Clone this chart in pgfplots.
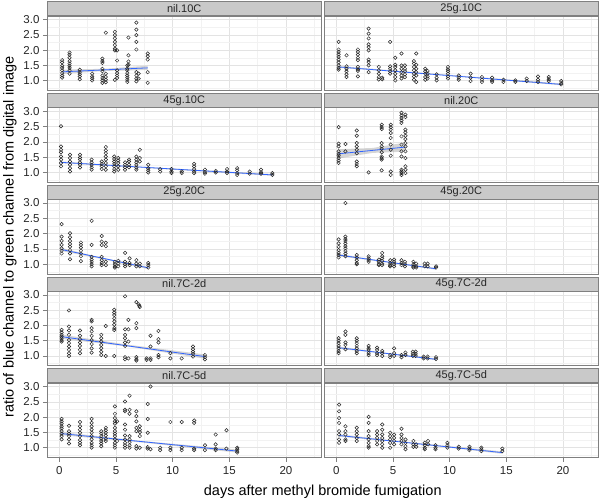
\documentclass[border=0pt]{standalone}
\usepackage{pgfplots}
\pgfplotsset{compat=1.18}
\usepackage{fontspec}
\setmainfont{Liberation Sans}
\definecolor{lmblue}{HTML}{3366FF}
\pgfplotsset{
  every axis title/.style={at={(0.5,1)}, anchor=south, draw=black!50, fill=black!21, line width=0.6pt, minimum width=274.5pt, minimum height=14pt, inner sep=0pt, font=\fontsize{11}{11}\selectfont, text=black!85},
  panel/.style={scale only axis, width=274.5pt, height=74.5pt, anchor=north west,
    xmin=-1.09, xmax=23.14, ymin=0.68, ymax=3.115,
    xtick={0,5,10,15,20}, ytick={1,1.5,2,2.5,3},
    minor xtick={2.5,7.5,12.5,17.5,22.5}, minor ytick={0.75,1.25,1.75,2.25,2.75},
    grid=both, major grid style={black!11, line width=0.5pt}, minor grid style={black!5, line width=0.4pt},
    tick align=outside, tick pos=left, major tick length=4pt, minor tick length=0pt,
    tick style={black!50, line width=0.5pt},
    axis line style={black!50, line width=0.6pt},
    tick label style={font=\fontsize{11.5}{11.5}\selectfont, text=black!85},
    xticklabel style={yshift=-1.5pt},
    xticklabels={}, yticklabels={}},
  pts/.style={only marks, mark=o, mark size=1.75pt, mark options={draw=black!85, line width=0.5pt}},
  fit/.style={lmblue, line width=0.8pt, no marks},
  band/.style={draw=none, fill=black!40, fill opacity=0.4, no marks},
  noxt/.style={xtick style={draw=none}},
  noyt/.style={ytick style={draw=none}},
  xt/.style={xticklabels={0,5,10,15,20}},
  yt/.style={yticklabels={1.0,1.5,2.0,2.5,3.0}},
}
\begin{document}
\begin{tikzpicture}
\path[use as bounding box] (0pt,0pt) rectangle (600pt,-501pt);
% ---- row 1 ----
\begin{axis}[panel, yt, noxt, title={nil.10C}, at={(47pt,-16pt)}]
\addplot[pts] coordinates {(0.25,1.67)(0.25,1.60)(0.25,1.49)(0.25,1.42)(0.25,1.34)(0.25,1.25)(0.25,1.17)(0.25,1.10)
(0.9,1.92)(0.9,1.85)(0.9,1.75)(0.9,1.64)(0.9,1.56)(0.9,1.49)(0.9,1.42)(0.9,1.34)(0.9,1.23)
(1.8,1.36)(1.8,1.28)(1.8,1.21)(1.8,1.14)(1.8,1.05)
(2.9,1.23)(2.9,1.14)(2.9,1.08)(2.9,1.01)
(3.8,1.72)(3.8,1.64)(3.8,1.58)(3.8,1.39)(3.8,1.31)(3.8,1.17)(3.8,1.09)(3.8,1.01)(3.8,0.93)
(4.1,2.57)(4.1,1.23)(4.1,1.12)(4.1,1.03)(4.1,0.95)
(4.9,2.60)(4.9,2.49)(4.9,2.38)(4.9,2.27)(4.9,2.16)(4.9,2.05)(4.9,1.99)(4.9,1.03)
(5.1,1.99)(5.1,1.66)(5.1,1.34)(5.1,1.25)(5.1,1.17)(5.1,1.09)
(6.0,1.50)(6.0,1.39)(6.0,1.34)(6.0,1.25)(6.0,1.17)(6.0,1.10)(6.0,1.03)(6.0,0.96)
(6.1,2.41)(6.1,1.83)(6.1,1.63)(6.1,1.52)
(6.8,2.90)(6.8,2.67)(6.8,2.49)(6.8,2.27)(6.8,2.02)(6.8,1.28)(6.8,1.17)(6.8,1.07)(6.8,0.98)
(7.0,1.23)(7.0,1.07)
(7.8,1.89)(7.8,1.80)(7.8,1.69)(7.8,1.28)(7.8,0.93)};
\addplot[band] coordinates {(0.25,1.36)(4.0,1.39)(7.8,1.49)(7.8,1.35)(4.0,1.32)(0.25,1.22)} -- cycle;
\addplot[fit] coordinates {(0.25,1.29)(7.8,1.42)};
\end{axis}
\begin{axis}[panel, noxt, noyt, title={25g.10C}, at={(324pt,-16pt)}]
\addplot[pts] coordinates {(0.2,2.27)(0.2,2.02)(0.2,1.94)(0.2,1.86)(0.2,1.78)(0.2,1.69)(0.2,1.60)(0.2,1.50)(0.2,1.42)(0.2,1.36)
(0.9,1.83)(0.9,1.47)(0.9,1.39)(0.9,1.31)(0.9,1.21)(0.9,1.12)
(1.9,2.02)(1.9,1.94)(1.9,1.85)(1.9,1.75)(1.9,1.67)(1.9,1.45)(1.9,1.37)(1.9,1.32)(1.9,1.14)
(2.85,2.70)(2.85,2.54)(2.85,2.38)(2.85,2.19)(2.85,2.10)(2.85,1.99)(2.85,1.69)(2.85,1.61)(2.85,1.50)(2.85,1.28)
(3.75,1.45)(3.75,1.34)(3.75,1.23)(3.75,1.12)(3.75,1.04)
(4.05,1.10)(4.05,1.05)
(4.75,2.27)(4.75,1.47)(4.75,1.39)(4.75,1.31)(4.75,1.23)
(5.2,1.75)(5.2,1.52)(5.2,1.45)(5.2,1.34)(5.2,1.23)(5.2,1.12)(5.2,1.01)
(5.75,1.89)(5.75,1.50)(5.75,1.39)(5.75,1.28)(5.75,1.17)(5.75,1.07)
(6.05,1.50)(6.05,1.39)(6.05,1.31)(6.05,1.21)(6.05,1.12)
(6.85,1.64)(6.85,1.56)(6.85,1.45)(6.85,1.34)(6.85,1.23)(6.85,1.14)(6.85,1.03)
(7.05,1.89)(7.05,1.52)(7.05,1.39)(7.05,1.28)(7.05,1.17)(7.05,0.96)
(7.85,1.39)(7.85,1.31)(7.85,1.23)(7.85,1.12)(7.85,1.03)
(8.05,1.32)(8.05,1.23)(8.05,1.14)(8.05,1.07)
(8.85,1.21)(8.85,1.10)(8.85,1.01)
(9.85,1.45)(9.85,1.37)(9.85,1.31)(9.85,1.23)(9.85,1.14)(9.85,1.07)
(10.8,1.17)(10.8,1.10)(10.8,1.03)
(11.85,1.23)(11.85,1.10)(11.85,0.99)
(12.85,1.12)(12.85,1.03)(12.85,0.96)
(13.75,1.10)(13.75,1.01)(13.75,0.96)
(14.75,1.03)(14.75,0.96)
(15.8,1.01)(15.8,0.96)
(16.8,1.07)(16.8,0.99)
(17.8,1.14)(17.8,1.03)(17.8,0.96)
(18.75,1.12)(18.75,1.05)(18.75,0.99)
(19.85,0.99)(19.85,0.92)(19.85,0.88)};
\addplot[band] coordinates {(0.2,1.48)(8,1.25)(19.85,0.91)(19.85,0.85)(8,1.22)(0.2,1.42)} -- cycle;
\addplot[fit] coordinates {(0.2,1.45)(19.85,0.88)};
\end{axis}
% ---- row 2 ----
\begin{axis}[panel, yt, noxt, title={45g.10C}, at={(47pt,-107.75pt)}]
\addplot[pts] coordinates {(0.15,2.51)(0.15,1.85)(0.15,1.74)(0.15,1.66)(0.15,1.52)(0.15,1.42)(0.15,1.31)(0.15,1.20)
(0.94,1.58)(0.94,1.47)(0.94,1.36)(0.94,1.25)(0.94,1.14)(0.94,1.03)
(1.82,1.58)(1.82,1.49)(1.82,1.42)(1.82,1.33)(1.82,1.25)(1.82,1.16)
(2.85,1.42)(2.85,1.33)(2.85,1.25)(2.85,1.17)(2.85,1.09)
(3.74,1.36)(3.74,1.28)(3.74,1.20)(3.74,1.11)
(4.1,1.83)(4.1,1.72)(4.1,1.63)(4.1,1.52)(4.1,1.42)(4.1,1.31)(4.1,1.20)(4.1,1.09)
(4.85,1.52)(4.85,1.44)(4.85,1.36)(4.85,1.28)(4.85,1.20)(4.85,1.11)(4.85,1.03)
(5.2,1.47)(5.2,1.39)(5.2,1.31)(5.2,1.20)(5.2,1.09)
(5.8,1.33)(5.8,1.25)(5.8,1.17)(5.8,1.09)
(6.15,1.42)(6.15,1.36)(6.15,1.25)(6.15,1.17)
(6.8,1.52)(6.8,1.42)(6.8,1.33)(6.8,1.25)(6.8,1.16)(6.8,1.09)
(7.1,1.74)(7.1,1.47)(7.1,1.36)
(7.85,1.25)(7.85,1.14)(7.85,1.07)(7.85,1.00)
(8.9,1.11)(8.9,1.03)
(9.9,1.11)(9.9,1.03)(9.9,0.98)
(10.8,1.03)(10.8,0.98)
(11.9,1.28)(11.9,1.20)(11.9,1.11)(11.9,1.03)(11.9,0.98)
(12.85,1.09)(12.85,1.01)(12.85,0.96)
(13.8,1.05)(13.8,1.00)
(14.8,1.11)(14.8,1.03)(14.8,0.98)
(15.7,1.14)(15.7,1.07)(15.7,0.98)(15.7,0.92)
(16.8,1.03)(16.8,0.96)
(17.8,1.09)(17.8,1.01)(17.8,0.96)
(18.8,0.98)(18.8,0.92)};
\addplot[band] coordinates {(0.15,1.36)(7,1.19)(18.8,0.95)(18.8,0.89)(7,1.16)(0.15,1.30)} -- cycle;
\addplot[fit] coordinates {(0.15,1.33)(18.8,0.92)};
\end{axis}
\begin{axis}[panel, noxt, noyt, title={nil.20C}, at={(324pt,-107.75pt)}]
\addplot[pts] coordinates {(0.2,2.48)(0.2,1.94)(0.2,1.85)(0.2,1.69)(0.2,1.61)(0.2,1.55)(0.2,1.47)(0.2,1.39)(0.2,1.31)
(0.8,1.93)(0.8,1.69)
(1.8,2.37)(1.8,2.20)(1.8,1.96)(1.8,1.85)(1.8,1.74)(1.8,1.63)(1.8,1.36)(1.8,1.28)(1.8,1.20)
(2.85,1.00)
(4.0,2.56)(4.0,2.48)(4.0,2.42)(4.0,1.96)(4.0,1.85)(4.0,1.77)(4.0,1.66)(4.0,1.52)(4.0,1.47)(4.0,1.42)(4.0,1.07)
(4.8,2.56)(4.8,2.48)(4.8,2.40)(4.8,2.29)(4.8,2.13)(4.8,1.91)(4.8,1.74)(4.8,1.55)(4.8,1.03)(4.8,0.92)
(5.75,2.95)(5.75,2.86)(5.75,2.78)(5.75,2.70)(5.75,2.62)(5.75,2.18)(5.75,1.91)(5.75,1.69)(5.75,1.52)(5.75,1.09)(5.75,1.03)(5.75,0.98)(5.75,0.92)
(6.1,2.89)(6.1,2.81)(6.1,2.40)(6.1,2.31)(6.1,2.20)(6.1,2.09)(6.1,1.96)(6.1,1.85)(6.1,1.69)(6.1,1.47)(6.1,1.20)(6.1,1.09)(6.1,0.98)};
\addplot[band] coordinates {(0.2,1.76)(3.2,1.80)(6.1,1.98)(6.1,1.68)(3.2,1.64)(0.2,1.46)} -- cycle;
\addplot[fit] coordinates {(0.2,1.61)(6.1,1.83)};
\end{axis}
% ---- row 3 ----
\begin{axis}[panel, yt, noxt, title={25g.20C}, at={(47pt,-199.5pt)}]
\addplot[pts] coordinates {(0.2,2.31)(0.2,1.90)(0.2,1.76)(0.2,1.63)(0.2,1.52)(0.2,1.44)(0.2,1.35)
(0.94,2.01)(0.94,1.88)(0.94,1.76)(0.94,1.66)(0.94,1.57)(0.94,1.46)(0.94,1.35)(0.94,1.16)
(1.9,1.71)(1.9,1.63)(1.9,1.54)(1.9,1.44)(1.9,1.35)(1.9,1.26)(1.9,1.10)
(2.85,2.42)(2.85,1.63)(2.85,1.24)(2.85,1.15)(2.85,1.08)(2.85,1.00)(2.85,0.93)
(3.74,1.92)(3.74,1.74)(3.74,1.63)(3.74,1.24)(3.74,1.13)(3.74,1.04)(3.74,0.97)
(4.1,1.70)(4.1,1.59)(4.1,1.08)(4.1,0.97)
(4.9,1.08)(4.9,1.00)(4.9,0.93)(4.9,0.89)
(5.2,1.11)(5.2,1.02)(5.2,0.93)
(5.8,1.37)(5.8,1.08)(5.8,1.00)(5.8,0.93)
(6.2,1.19)(6.2,1.04)(6.2,0.97)
(6.8,1.13)(6.8,1.02)(6.8,0.93)
(7.1,1.02)(7.1,0.93)
(7.85,1.04)(7.85,0.97)(7.85,0.89)};
\addplot[band] coordinates {(0.2,1.53)(3.5,1.23)(7.85,0.92)(7.85,0.84)(3.5,1.19)(0.2,1.43)} -- cycle;
\addplot[fit] coordinates {(0.2,1.48)(7.85,0.88)};
\end{axis}
\begin{axis}[panel, noxt, noyt, title={45g.20C}, at={(324pt,-199.5pt)}]
\addplot[pts] coordinates {(0.2,1.81)(0.2,1.68)(0.2,1.57)(0.2,1.46)(0.2,1.37)(0.2,1.30)(0.2,1.22)
(0.8,3.00)(0.8,1.90)(0.8,1.82)(0.8,1.76)(0.8,1.68)(0.8,1.59)(0.8,1.52)(0.8,1.43)(0.8,1.35)(0.8,1.26)
(1.8,1.30)(1.8,1.22)(1.8,1.13)(1.8,1.04)(1.8,1.00)
(2.85,1.26)(2.85,1.19)(2.85,1.13)(2.85,1.08)
(3.75,1.15)(3.75,1.08)(3.75,1.00)(3.75,0.97)
(4.05,1.37)(4.05,1.26)(4.05,1.19)(4.05,1.11)(4.05,1.02)(4.05,0.97)
(4.75,1.13)(4.75,1.04)(4.75,0.97)(4.75,0.93)
(5.1,1.15)(5.1,1.08)(5.1,1.00)(5.1,0.93)
(5.75,1.13)(5.75,1.04)(5.75,0.97)
(6.05,1.08)(6.05,1.00)(6.05,0.93)
(6.8,1.08)(6.8,1.00)(6.8,0.93)(6.8,0.89)
(7.05,1.02)(7.05,0.93)(7.05,0.89)
(7.8,1.02)(7.8,0.93)
(8.05,1.02)(8.05,0.93)
(8.8,0.93)(8.8,0.89)};
\addplot[band] coordinates {(0.2,1.34)(4,1.11)(8.8,0.88)(8.8,0.82)(4,1.08)(0.2,1.26)} -- cycle;
\addplot[fit] coordinates {(0.2,1.30)(8.8,0.85)};
\end{axis}
% ---- row 4 ----
\begin{axis}[panel, yt, noxt, title={nil.7C-2d}, at={(47pt,-291.25pt)}]
\addplot[pts] coordinates {(0.2,1.85)(0.2,1.77)(0.2,1.69)(0.2,1.63)(0.2,1.58)(0.2,1.52)(0.2,1.47)
(0.85,2.49)(0.85,1.96)(0.85,1.83)(0.85,1.69)(0.85,1.52)(0.85,1.42)(0.85,1.31)(0.85,1.20)(0.85,1.09)(0.85,1.00)
(1.82,1.83)(1.82,1.66)(1.82,1.55)(1.82,1.44)(1.82,1.33)(1.82,1.20)(1.82,1.09)
(2.85,2.18)(2.85,2.13)(2.85,1.91)(2.85,1.80)(2.85,1.66)(2.85,1.52)(2.85,1.39)(2.85,1.25)(2.85,1.11)
(3.7,1.69)(3.7,1.58)(3.7,1.47)(3.7,1.36)(3.7,1.25)(3.7,1.14)(3.7,1.03)
(4.1,1.98)(4.1,1.00)
(4.85,2.51)(4.85,2.42)(4.85,2.34)(4.85,2.23)(4.85,2.13)(4.85,2.02)(4.85,1.91)(4.85,1.85)(4.85,1.00)
(5.8,2.95)(5.8,1.87)(5.8,1.69)(5.8,1.58)(5.8,1.44)(5.8,1.33)(5.8,0.96)(5.8,0.89)
(6.1,2.18)(6.1,1.87)(6.1,1.47)(6.1,0.92)
(6.8,2.76)(6.8,2.07)(6.8,1.91)(6.8,0.96)(6.8,0.89)(6.8,0.85)
(7.0,2.69)(7.05,2.64)(7.1,2.60)
(7.7,0.92)(7.7,0.87)
(8.05,1.66)(8.05,1.31)(8.05,0.92)(8.05,0.87)
(8.75,1.82)(8.75,1.55)(8.75,1.44)(8.75,1.03)(8.75,0.96)
(9.8,1.09)(9.8,0.92)
(10.8,0.92)
(11.8,1.31)(11.8,1.22)(11.8,1.14)(11.8,1.07)(11.8,0.98)
(12.85,1.03)(12.85,0.96)(12.85,0.89)};
\addplot[band] coordinates {(0.2,1.70)(6,1.37)(12.85,1.05)(12.85,0.91)(6,1.31)(0.2,1.56)} -- cycle;
\addplot[fit] coordinates {(0.2,1.63)(12.85,0.98)};
\end{axis}
\begin{axis}[panel, noxt, noyt, title={45g.7C-2d}, at={(324pt,-291.25pt)}]
\addplot[pts] coordinates {(0.2,1.58)(0.2,1.50)(0.2,1.42)(0.2,1.33)(0.2,1.25)(0.2,1.16)(0.2,1.09)
(0.8,1.80)(0.8,1.69)(0.8,1.44)(0.8,1.36)(0.8,1.22)
(1.8,1.58)(1.8,1.50)(1.8,1.42)(1.8,1.33)(1.8,1.25)(1.8,1.16)(1.8,1.09)
(2.85,1.33)(2.85,1.25)(2.85,1.20)(2.85,1.09)(2.85,1.03)
(3.6,1.27)(3.6,1.20)(3.6,1.09)(3.6,1.03)
(4.05,1.16)(4.05,1.09)(4.05,1.00)
(4.75,1.03)(4.75,0.96)
(5.1,1.25)(5.1,1.09)(5.1,1.00)
(5.75,1.03)(5.75,0.96)
(6.1,1.11)(6.1,1.03)
(6.75,1.14)(6.75,1.07)(6.75,1.00)
(7.0,1.14)(7.0,1.07)(7.0,1.00)
(7.7,0.98)(7.7,0.92)
(8.05,0.98)(8.05,0.92)
(8.8,0.96)(8.8,0.90)};
\addplot[band] coordinates {(0.2,1.31)(4,1.12)(8.8,0.92)(8.8,0.86)(4,1.09)(0.2,1.23)} -- cycle;
\addplot[fit] coordinates {(0.2,1.27)(8.8,0.89)};
\end{axis}
% ---- row 5 ----
\begin{axis}[panel, yt, xt, title={nil.7C-5d}, at={(47pt,-383pt)}]
\addplot[pts] coordinates {(0.2,1.94)(0.2,1.86)(0.2,1.79)(0.2,1.70)(0.2,1.63)(0.2,1.54)(0.2,1.46)(0.2,1.38)(0.2,1.27)
(0.85,1.72)(0.85,1.54)(0.85,1.46)(0.85,1.38)(0.85,1.27)(0.85,1.14)
(1.82,1.84)(1.82,1.70)(1.82,1.59)(1.82,1.49)(1.82,1.38)(1.82,1.25)(1.82,1.16)(1.82,1.08)
(2.85,1.94)(2.85,1.81)(2.85,1.70)(2.85,1.59)(2.85,1.49)(2.85,1.38)(2.85,1.27)(2.85,1.16)(2.85,1.08)(2.85,1.00)
(3.7,1.54)(3.7,1.46)(3.7,1.38)(3.7,1.29)(3.7,1.22)(3.7,1.14)(3.7,1.05)
(4.1,1.65)(4.1,1.57)(4.1,1.49)(4.1,1.40)(4.1,1.29)(4.1,1.22)
(4.9,2.35)(4.9,2.11)(4.9,1.97)(4.9,1.86)(4.9,1.79)(4.9,1.65)(4.9,1.54)(4.9,1.46)(4.9,1.38)(4.9,1.27)(4.9,1.16)(4.9,1.08)(4.9,1.00)
(5.1,1.86)(5.1,1.22)
(5.8,2.51)(5.8,2.24)(5.8,2.19)(5.8,1.76)(5.8,1.59)(5.8,1.40)(5.8,1.27)(5.8,1.16)(5.8,1.08)(5.8,1.00)
(6.2,2.70)(6.2,2.24)(6.2,2.11)(6.2,1.38)(6.2,1.27)(6.2,1.18)(6.2,1.08)(6.2,1.00)
(6.8,2.19)(6.8,2.03)(6.8,1.86)(6.8,1.65)(6.8,1.54)(6.8,1.05)(6.8,0.97)
(7.1,1.70)(7.1,1.59)(7.1,1.51)(7.1,1.38)(7.1,1.00)
(7.8,2.43)(7.8,1.94)(7.8,1.49)(7.8,1.02)(7.8,0.97)
(8.05,3.00)(8.05,0.95)
(8.9,1.00)(8.9,0.92)
(9.8,1.84)(9.8,1.00)(9.8,0.92)
(10.8,1.84)(10.8,1.00)(10.8,0.92)
(11.9,1.89)(11.9,1.81)(11.9,0.97)(11.9,0.92)
(12.85,1.08)(12.85,0.92)
(13.8,1.43)(13.8,1.11)(13.8,0.97)(13.8,0.92)
(14.75,1.57)(14.75,0.97)
(15.7,1.00)(15.7,0.95)(15.7,0.89)(15.7,0.84)};
\addplot[band] coordinates {(0.2,1.51)(7,1.23)(15.7,0.94)(15.7,0.84)(7,1.18)(0.2,1.41)} -- cycle;
\addplot[fit] coordinates {(0.2,1.46)(15.7,0.89)};
\end{axis}
\begin{axis}[panel, noyt, xt, title={45g.7C-5d}, at={(324pt,-383pt)}]
\addplot[pts] coordinates {(0.24,2.41)(0.24,2.19)(0.24,1.97)(0.24,1.81)(0.24,1.54)(0.24,1.43)(0.24,1.27)(0.24,1.16)
(0.8,1.70)(0.8,1.54)(0.8,1.43)(0.8,1.27)(0.8,1.22)
(1.8,1.65)(1.8,1.54)(1.8,1.43)(1.8,1.32)(1.8,1.22)
(2.85,2.01)(2.85,1.81)(2.85,1.54)(2.85,1.38)(2.85,1.27)(2.85,1.16)(2.85,1.05)(2.85,1.00)
(3.6,1.54)(3.6,1.43)(3.6,1.32)(3.6,1.22)(3.6,1.11)
(4.05,1.76)(4.05,1.59)(4.05,1.43)(4.05,1.32)(4.05,1.22)(4.05,1.11)(4.05,1.00)
(4.75,1.49)(4.75,1.38)(4.75,1.27)(4.75,1.16)(4.75,1.00)
(5.1,1.43)(5.1,1.32)(5.1,1.22)(5.1,1.11)
(5.75,1.62)(5.75,1.43)(5.75,1.32)(5.75,1.22)(5.75,1.11)
(6.1,1.27)(6.1,1.16)(6.1,1.05)(6.1,0.95)
(6.8,1.22)(6.8,1.11)(6.8,1.03)
(7.05,1.11)(7.05,1.03)
(7.8,1.16)(7.8,1.08)(7.8,1.00)(7.8,0.95)
(8.1,1.22)(8.1,1.11)
(8.75,1.08)(8.75,1.00)(8.75,0.95)
(9.8,1.16)(9.8,1.08)(9.8,1.00)
(10.8,1.03)(10.8,0.97)
(11.75,1.03)(11.75,0.97)(11.75,0.92)
(12.8,1.00)(12.8,0.95)(12.8,0.89)
(14.65,0.97)(14.65,0.89)};
\addplot[band] coordinates {(0.24,1.44)(6,1.20)(14.65,0.88)(14.65,0.80)(6,1.17)(0.24,1.36)} -- cycle;
\addplot[fit] coordinates {(0.24,1.40)(14.65,0.84)};
\end{axis}
% ---- axis titles ----
\node[rotate=90, font=\fontsize{14.5}{14.5}\selectfont, text=black] at (10pt,-236.75pt) {ratio of blue channel to green channel from digital image};
\node[font=\fontsize{14.5}{14.5}\selectfont, text=black] at (322.75pt,-491.5pt) {days after methyl bromide fumigation};
\end{tikzpicture}
\end{document}
